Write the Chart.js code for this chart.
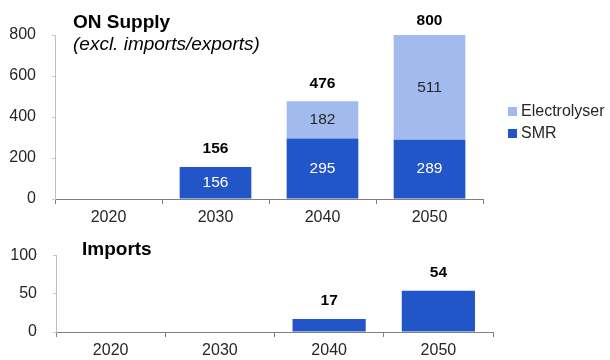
<!DOCTYPE html>
<html>
<head>
<meta charset="utf-8">
<script src="https://cdn.jsdelivr.net/npm/chart.js@4.4.0/dist/chart.umd.min.js"></script>
<style>
  body { margin: 0; background: #fff; font-family: "Liberation Sans", Arial, sans-serif; }
  #wrap { position: relative; width: 610px; height: 360px; overflow: hidden; }
  canvas { position: absolute; left: 0; }
  .txt { position: absolute; white-space: nowrap; color: #000; line-height: 1; }
  #legend { position: absolute; left: 508px; top: 100px; font-size: 16px; color: #262626; }
  #legend div { display: flex; align-items: center; height: 22px; }
  #legend span.sw { display: inline-block; width: 9px; height: 9px; margin-right: 4px; }
</style>
</head>
<body>
<div id="wrap">
  <canvas id="supplyChart" width="610" height="227" style="top:0"></canvas>
  <canvas id="importsChart" width="610" height="130" style="top:230px"></canvas>
  <div class="txt" style="left:73px;top:12px;font-size:19px;font-weight:bold">ON Supply</div>
  <div class="txt" style="left:73px;top:34px;font-size:19px;font-style:italic">(excl. imports/exports)</div>
  <div class="txt" style="left:82px;top:239px;font-size:19px;font-weight:bold">Imports</div>
  <div id="legend"></div>
</div>
<script>
const years = ["2020", "2030", "2040", "2050"];
const smr = [0, 156, 295, 289];
const electrolyser = [0, 0, 182, 511];
const supplyTotals = [0, 156, 476, 800];
const imports = [0, 0, 17, 54];

const supplyTicks = [0, 200, 400, 600, 800];
const importTicks = [0, 50, 100];

const darkBlue = "#2155C8";
const lightBlue = "#A2BAED";
const textColor = "#262626";
const fontFamily = '"Liberation Sans", Arial, sans-serif';

// draws the numbers inside the segments and the totals above the bars
const valueLabels = {
  id: "valueLabels",
  afterDatasetsDraw(chart, args, opts) {
    const ctx = chart.ctx;
    const yScale = chart.scales.y;
    ctx.save();
    ctx.textAlign = "center";
    ctx.textBaseline = "middle";

    if (opts.inside) {
      chart.data.datasets.forEach((ds, i) => {
        const meta = chart.getDatasetMeta(i);
        ctx.font = "15.5px " + fontFamily;
        ctx.fillStyle = ds.labelColor;
        meta.data.forEach((bar, j) => {
          const v = ds.data[j];
          if (!v) return;
          ctx.fillText(v, bar.x, (bar.y + bar.base) / 2);
        });
      });
    }

    ctx.font = "bold 15.5px " + fontFamily;
    ctx.fillStyle = "#000";
    const meta = chart.getDatasetMeta(0);
    opts.totals.forEach((t, j) => {
      if (!t) return;
      const y = Math.max(yScale.getPixelForValue(t) - 18, 21);
      ctx.fillText(t, meta.data[j].x, y);
    });
    ctx.restore();
  }
};

function axes(tickList, max, yWidth) {
  return {
    x: {
      stacked: true,
      grid: { display: true, drawOnChartArea: false, drawTicks: true, tickLength: 5, color: "#808080", offset: true },
      border: { color: "#808080", width: 1 },
      ticks: { color: textColor, font: { size: 16, family: fontFamily }, padding: 4 },
      afterFit: scale => { scale.height = 28; }
    },
    y: {
      stacked: true,
      min: 0,
      max: max,
      afterBuildTicks: scale => { scale.ticks = tickList.map(v => ({ value: v })); },
      grid: { display: true, drawOnChartArea: false, drawTicks: true, tickLength: 3, color: "#C8C8C8" },
      border: { color: "#C0C0C0", width: 1 },
      ticks: { color: textColor, font: { size: 16, family: fontFamily }, padding: 16 },
      afterFit: scale => { scale.width = yWidth; }
    }
  };
}

const supplyChart = new Chart(document.getElementById("supplyChart"), {
  type: "bar",
  data: {
    labels: years,
    datasets: [
      { label: "SMR", data: smr, backgroundColor: darkBlue, labelColor: "#fff",
        barPercentage: 0.67, categoryPercentage: 1 },
      { label: "Electrolyser", data: electrolyser, backgroundColor: lightBlue, labelColor: textColor,
        barPercentage: 0.67, categoryPercentage: 1 }
    ]
  },
  options: {
    responsive: false,
    animation: false,
    layout: { padding: { top: 35, right: 127, left: 0, bottom: 0 } },
    scales: axes(supplyTicks, 800, 55),
    plugins: {
      legend: { display: false },
      tooltip: { enabled: false },
      valueLabels: { inside: true, totals: supplyTotals }
    }
  },
  plugins: [valueLabels]
});

new Chart(document.getElementById("importsChart"), {
  type: "bar",
  data: {
    labels: years,
    datasets: [
      { label: "Imports", data: imports, backgroundColor: darkBlue, labelColor: "#fff",
        barPercentage: 0.67, categoryPercentage: 1 }
    ]
  },
  options: {
    responsive: false,
    animation: false,
    layout: { padding: { top: 17, right: 117, left: 0, bottom: 0 } },
    scales: axes(importTicks, 100, 56),
    plugins: {
      legend: { display: false },
      tooltip: { enabled: false },
      valueLabels: { inside: false, totals: imports }
    }
  },
  plugins: [valueLabels]
});

// legend built from the supply datasets, top item = top of the stack
const legendEl = document.getElementById("legend");
supplyChart.data.datasets.slice().reverse().forEach(ds => {
  const row = document.createElement("div");
  row.innerHTML = '<span class="sw" style="background:' + ds.backgroundColor + '"></span>' + ds.label;
  legendEl.appendChild(row);
});
</script>
</body>
</html>
